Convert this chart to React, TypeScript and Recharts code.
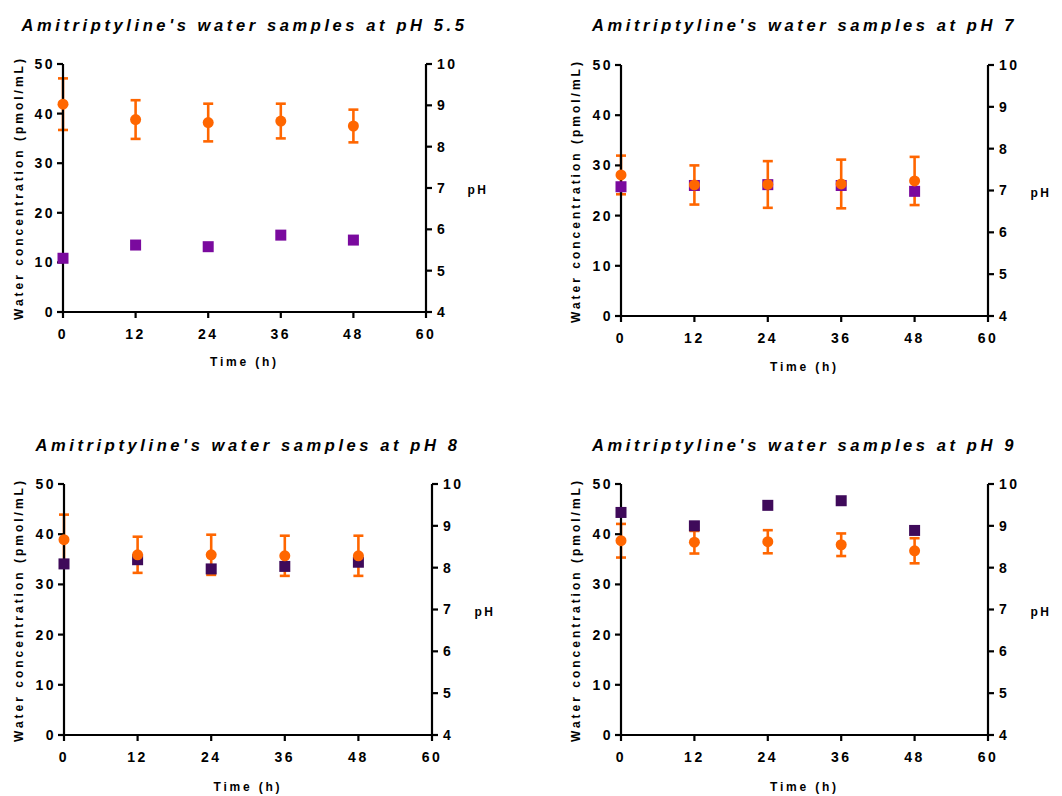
import React from 'react';
import { ComposedChart, Scatter, XAxis, YAxis, ErrorBar } from 'recharts';

const times = [0, 12, 24, 36, 48];
const xTicks = [0, 12, 24, 36, 48, 60];
const concTicks = [0, 10, 20, 30, 40, 50];
const phTicks = [4, 5, 6, 7, 8, 9, 10];

const titles = [
  "Amitriptyline's water samples at pH 5.5",
  "Amitriptyline's water samples at pH 7",
  "Amitriptyline's water samples at pH 8",
  "Amitriptyline's water samples at pH 9",
];

const conc55 = [41.9, 38.8, 38.2, 38.5, 37.5];
const err55 = [5.2, 3.9, 3.8, 3.5, 3.3];
const ph55 = [5.3, 5.62, 5.58, 5.86, 5.74];

const conc7 = [28.1, 26.1, 26.2, 26.3, 26.9];
const err7 = [3.85, 3.9, 4.65, 4.85, 4.8];
const ph7 = [7.09, 7.12, 7.14, 7.12, 6.98];

const conc8 = [38.9, 35.9, 35.9, 35.7, 35.7];
const err8 = [5.0, 3.6, 4.0, 4.0, 4.0];
const ph8 = [8.09, 8.19, 7.97, 8.03, 8.13];

const conc9 = [38.7, 38.4, 38.5, 37.9, 36.7];
const err9 = [3.35, 2.25, 2.3, 2.25, 2.5];
const ph9 = [9.32, 9.0, 9.49, 9.6, 8.89];

const ORANGE = '#FF6600';
const PURPLE = '#7A0A9E';
const DARK_PURPLE = '#3F0A5A';
const FONT = '"Liberation Sans", Arial, Helvetica, sans-serif';

const build = (conc: number[], err: number[], ph: number[]) =>
  times.map((t, i) => ({ time: t, conc: conc[i], err: err[i], ph: ph[i] }));

const OrangeDot = (p: any) => <circle cx={p.cx} cy={p.cy} r={5.5} fill={ORANGE} />;
const makeSquare = (color: string) => (p: any) => (
  <rect x={p.cx - 5.5} y={p.cy - 5.5} width={11} height={11} fill={color} />
);

const tickStyle = { fill: '#000', fontSize: 14, fontWeight: 700, fontFamily: FONT, letterSpacing: 2.5 };

type PanelProps = {
  ox: number; oy: number; w: number; h: number;
  L: number; R: number; T: number; B: number;
  title: string; titleY: number;
  data: any[]; sqColor: string;
  ylabX: number; ylabY: number; timeY: number; phX: number; phY: number;
};

const txt: React.CSSProperties = {
  position: 'absolute', whiteSpace: 'nowrap', fontFamily: FONT, fontWeight: 700, color: '#000',
};

const Panel = (pp: PanelProps) => {
  const margin = {
    top: pp.T - pp.oy,
    left: pp.L - pp.ox - 40,
    right: pp.ox + pp.w - pp.R - 40,
    bottom: pp.oy + pp.h - pp.B - 30,
  };
  const cx = (pp.L + pp.R) / 2;
  return (
    <>
      <div style={{ position: 'absolute', left: pp.ox, top: pp.oy, width: pp.w, height: pp.h }}>
        <ComposedChart width={pp.w} height={pp.h} data={pp.data} margin={margin}>
          <XAxis
            dataKey="time" type="number" domain={[0, 60]} ticks={xTicks} interval={0}
            xAxisId="x" height={30}
            axisLine={{ stroke: '#000', strokeWidth: 2.2 }}
            tickLine={{ stroke: '#000', strokeWidth: 2.2 }}
            tickSize={6} tickMargin={11} tick={tickStyle}
          />
          <YAxis
            yAxisId="left" orientation="left" type="number" domain={[0, 50]} ticks={concTicks}
            interval={0} width={40}
            axisLine={{ stroke: '#000', strokeWidth: 2.2 }}
            tickLine={{ stroke: '#000', strokeWidth: 2.2 }}
            tickSize={6} tickMargin={2} tick={tickStyle}
          />
          <YAxis
            yAxisId="right" orientation="right" type="number" domain={[4, 10]} ticks={phTicks}
            interval={0} width={40}
            axisLine={{ stroke: '#000', strokeWidth: 2.2 }}
            tickLine={{ stroke: '#000', strokeWidth: 2.2 }}
            tickSize={6} tickMargin={5} tick={tickStyle}
          />
          <Scatter
            data={pp.data} dataKey="ph" xAxisId="x" yAxisId="right"
            shape={makeSquare(pp.sqColor)} isAnimationActive={false}
          />
          <Scatter
            data={pp.data} dataKey="conc" xAxisId="x" yAxisId="left"
            shape={OrangeDot} isAnimationActive={false}
          >
            <ErrorBar dataKey="err" direction="y" width={5} stroke={ORANGE} strokeWidth={2.6} isAnimationActive={false} />
          </Scatter>
        </ComposedChart>
      </div>
      <div style={{ ...txt, left: cx, top: pp.titleY, transform: 'translate(-50%, -50%)', fontSize: 16.5, fontStyle: 'italic', letterSpacing: 3.6 }}>
        {pp.title}
      </div>
      <div style={{ ...txt, left: pp.ylabX, top: pp.ylabY, transform: 'translate(-50%, -50%) rotate(-90deg)', fontSize: 12, letterSpacing: 3 }}>
        Water concentration (pmol/mL)
      </div>
      <div style={{ ...txt, left: cx, top: pp.timeY, transform: 'translate(-50%, -50%)', fontSize: 12, letterSpacing: 2.8 }}>
        Time (h)
      </div>
      <div style={{ ...txt, left: pp.phX, top: pp.phY, transform: 'translate(-50%, -50%)', fontSize: 12, letterSpacing: 2.5 }}>
        pH
      </div>
    </>
  );
};

export default function App() {
  return (
    <div style={{ position: 'absolute', left: 0, top: 0, width: 1062, height: 796, background: '#fff', overflow: 'hidden' }}>
      <Panel ox={0} oy={0} w={531} h={398} L={63} R={426} T={64} B={312}
        title={titles[0]} titleY={25} data={build(conc55, err55, ph55)} sqColor={PURPLE}
        ylabX={19} ylabY={188} timeY={362} phX={478} phY={190} />
      <Panel ox={531} oy={0} w={531} h={398} L={621} R={988} T={65} B={316}
        title={titles[1]} titleY={25} data={build(conc7, err7, ph7)} sqColor={PURPLE}
        ylabX={576} ylabY={191} timeY={367} phX={1041} phY={193} />
      <Panel ox={0} oy={420} w={531} h={376} L={64} R={432} T={484} B={735}
        title={titles[2]} titleY={445} data={build(conc8, err8, ph8)} sqColor={DARK_PURPLE}
        ylabX={19} ylabY={610} timeY={787} phX={485} phY={612} />
      <Panel ox={531} oy={420} w={531} h={376} L={621} R={988} T={484} B={735}
        title={titles[3]} titleY={445} data={build(conc9, err9, ph9)} sqColor={DARK_PURPLE}
        ylabX={576} ylabY={610} timeY={787} phX={1041} phY={612} />
    </div>
  );
}
